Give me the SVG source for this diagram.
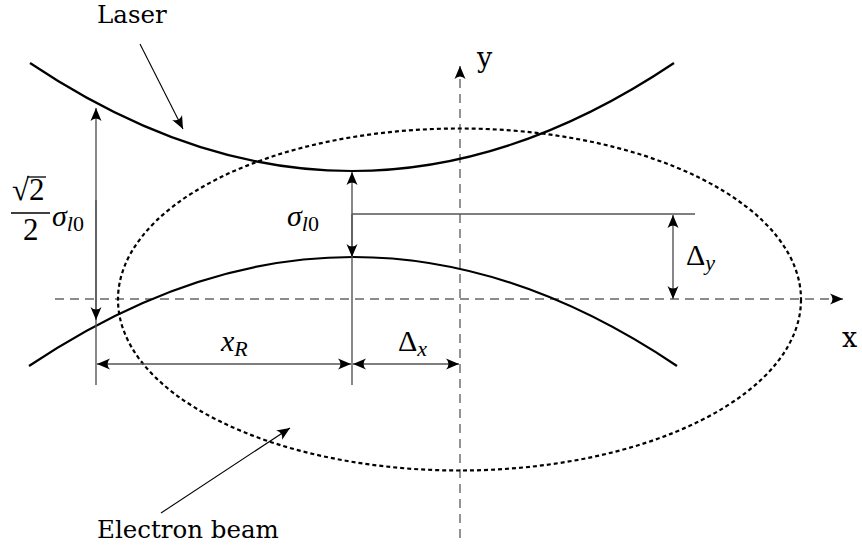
<svg xmlns="http://www.w3.org/2000/svg" width="862" height="558" viewBox="0 0 862 558">
<style>
.curve{fill:none;stroke:#000;stroke-width:2.2}
.beam{fill:none;stroke:#000;stroke-width:2.2;stroke-dasharray:4 3}
.axis{fill:none;stroke:#666;stroke-width:1.4;stroke-dasharray:9 6}
.dim{fill:none;stroke:#555;stroke-width:1.4}
.thin{fill:none;stroke:#000;stroke-width:1.1}
text{fill:#000}
.up{font-style:normal}
.sub{font-size:22px}
</style>
<defs>
<marker id="ah" viewBox="-14 -7 15 14" refX="0" refY="0" markerWidth="15" markerHeight="14" markerUnits="userSpaceOnUse" orient="auto-start-reverse">
<path d="M0,0 L-13,-5.5 Q-8,0 -13,5.5 Z" fill="#000"/>
</marker>
</defs>
<g id="axes">
<line class="axis" x1="55" y1="299" x2="843" y2="299" marker-end="url(#ah)"/>
<line class="axis" x1="460" y1="538" x2="460" y2="66" marker-end="url(#ah)"/>
<text font-family="DejaVu Serif, serif" font-size="27" x="477" y="67">y</text>
<text font-family="DejaVu Serif, serif" font-size="27" x="842" y="347">x</text>
</g>
<g id="electron-beam">
<ellipse class="beam" cx="459.5" cy="299.5" rx="341.5" ry="171"/>
</g>
<g id="laser">
<path class="curve" d="M30,63 Q352,279 674,63"/>
<path class="curve" d="M29,366 Q353,148 677,366"/>
</g>
<g id="connectors">
<line class="dim" x1="96" y1="385" x2="96" y2="108" marker-end="url(#ah)"/>
<line class="dim" x1="96" y1="200" x2="96" y2="320" marker-end="url(#ah)"/>
<line class="dim" x1="352" y1="385" x2="352" y2="172" marker-end="url(#ah)"/>
<line class="dim" x1="352" y1="214" x2="352" y2="257" marker-end="url(#ah)"/>
<line class="dim" x1="352" y1="214" x2="695" y2="214"/>
<line class="dim" x1="673" y1="256" x2="673" y2="215" marker-end="url(#ah)"/>
<line class="dim" x1="673" y1="256" x2="673" y2="299" marker-end="url(#ah)"/>
<line class="dim" x1="97" y1="364" x2="351" y2="364" marker-start="url(#ah)" marker-end="url(#ah)"/>
<line class="dim" x1="353" y1="364" x2="459" y2="364" marker-start="url(#ah)" marker-end="url(#ah)"/>
<line class="thin" x1="140" y1="44" x2="183" y2="129" marker-end="url(#ah)"/>
<line class="thin" x1="161" y1="513" x2="290" y2="428" marker-end="url(#ah)"/>
</g>
<g id="labels" font-family="Liberation Serif, serif">
<text font-family="DejaVu Serif, serif" font-size="24.5" x="97" y="23">Laser</text>
<text font-family="DejaVu Serif, serif" font-size="24.5" x="97" y="538">Electron beam</text>
<g font-size="30" font-style="italic">
<text x="287" y="226">σ<tspan class="sub" dy="5">l</tspan><tspan class="sub up">0</tspan></text>
<text x="12" y="200" font-size="31"><tspan class="up">√2</tspan></text>
<text x="23" y="240" font-size="31"><tspan class="up">2</tspan></text>
<text x="52" y="226">σ<tspan class="sub" dy="5">l</tspan><tspan class="sub up">0</tspan></text>
<text x="221" y="351">x<tspan class="sub" dy="5">R</tspan></text>
<text x="398" y="351"><tspan class="up">Δ</tspan><tspan class="sub" dy="5">x</tspan></text>
<text x="686" y="265"><tspan class="up">Δ</tspan><tspan class="sub" dy="5">y</tspan></text>
</g>
</g>
<line x1="27" y1="177" x2="46" y2="177" stroke="#000" stroke-width="1.3"/>
<line x1="11" y1="213" x2="50" y2="213" stroke="#000" stroke-width="1.3"/>
</svg>
